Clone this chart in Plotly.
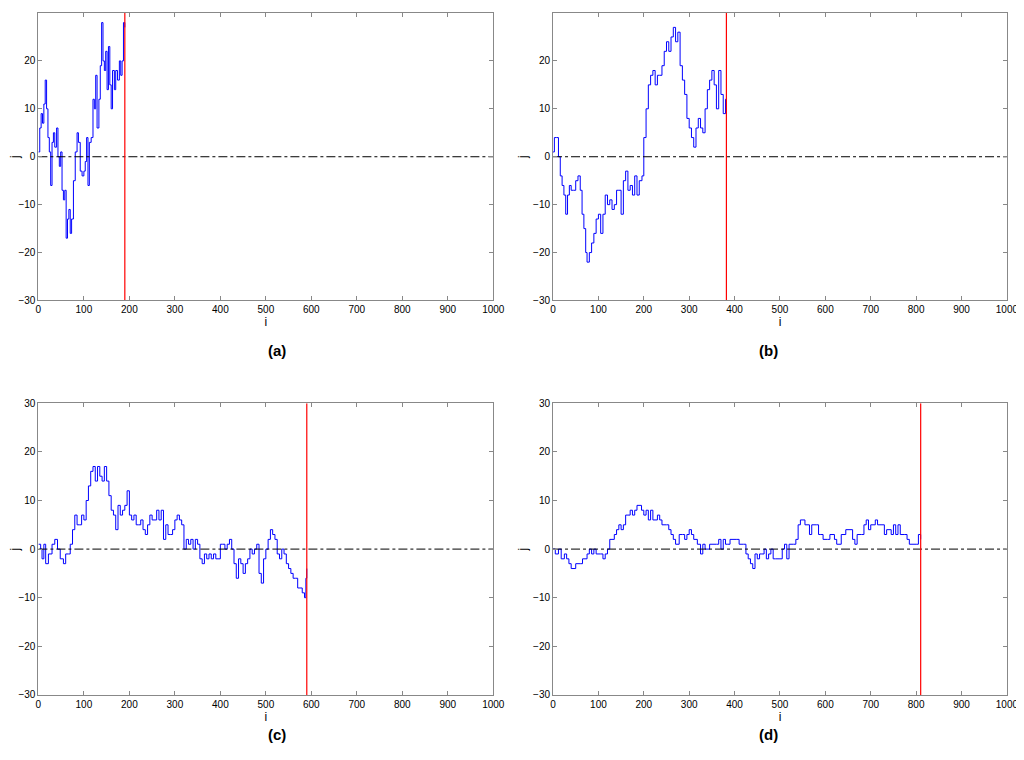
import plotly.graph_objects as go

a_x = [0,3,6,9,12,15,18,21,24,27,30,33,36,40,43,46,49,52,55,58,61,64,67,70,73,77,81,85,88,92,96,100,103,106,109,112,116,120,123,126,129,133,136,139,142,145,148,151,154,157,160,163,167,170,174,178,181,184,187,190]
a_y = [1,6,9,7,11,16,10,4,1,-6,3,5,2,6,0,-2,1,-7,-9,-7,-17,-13,-11,-16,-13,-5,1,5,3,-3,-4,-3,-1,4,-6,3,4,12,10,17,6,12,19,28,20,18,22,14,23,15,10,18,14,18,16,20,17,20,28,27]

b_x = [0,3,8,12,16,20,24,28,32,36,40,45,50,55,60,64,68,72,75,80,85,90,95,100,105,110,115,120,125,130,135,140,145,150,155,160,165,170,175,180,185,190,196,200,205,210,215,220,225,230,235,240,245,250,255,260,265,270,275,280,285,290,295,300,305,310,315,320,325,330,335,340,345,350,355,360,365,370,375,380,382]
b_y = [1,4,4,0,-4,-6,-8,-12,-8,-6,-7,-7,-5,-4,-7,-12,-15,-20,-22,-20,-18,-16,-13,-12,-16,-12,-8,-10,-9,-11,-10,-7,-7,-12,-5,-3,-7,-6,-8,-4,-8,-5,-4,4,10,15,17,18,15,17,17,19,22,24,22,25,27,24,26,19,16,13,8,6,4,2,6,8,6,5,10,14,16,18,15,10,18,13,9,12,9]

c_x = [0,5,8,12,16,22,30,36,42,48,55,60,66,70,75,80,85,90,95,100,105,110,115,120,125,130,135,140,145,150,155,160,165,170,175,180,185,190,195,200,205,210,215,220,225,230,235,240,245,250,260,265,270,275,280,285,290,295,300,305,310,315,320,325,330,335,340,345,350,355,360,365,370,375,380,385,390,395,400,405,410,415,420,425,430,435,440,445,450,455,460,465,470,475,480,485,490,495,500,505,510,515,520,525,530,535,540,545,550,555,560,565,570,575,580,585,588,590]
c_y = [1,0,-2,1,-3,-1,1,2,0,-2,-3,-1,-1,1,4,7,5,5,7,6,10,13,16,17,14,17,15,14,17,14,11,8,7,4,9,7,8,9,12,7,6,7,5,5,6,4,3,5,7,6,8,6,8,2,5,3,3,4,6,7,6,5,0,2,1,2,0,2,1,-2,-3,-1,-2,-1,-2,-1,-2,-2,1,1,0,1,2,0,-3,-6,-2,-3,-5,-3,-2,0,-1,0,1,-5,-7,-2,0,2,4,3,2,-1,-2,0,-1,-3,-4,-5,-6,-6,-8,-8,-9,-10,-6,-4]

d_x = [0,5,12,18,25,30,35,40,50,60,65,75,80,85,90,95,105,110,115,120,125,135,140,145,150,155,160,165,170,175,180,185,195,200,205,210,215,220,230,235,240,250,255,260,265,270,278,285,290,295,300,305,310,318,325,330,335,345,360,365,370,375,380,385,390,405,410,420,425,430,435,440,445,450,455,460,465,470,475,480,485,490,500,505,510,515,520,530,535,540,545,555,565,570,580,585,590,595,605,610,620,625,630,635,645,660,665,670,680,685,690,695,700,710,715,730,735,745,750,755,760,765,775,780,785,800,805,810]
d_y = [0,-1,0,-2,-1,-2,-3,-4,-3,-3,-2,-1,0,-1,0,-1,-1,-2,-1,0,2,3,4,5,4,5,7,7,8,7,8,9,8,7,8,6,8,6,7,6,5,5,4,3,2,1,3,3,2,3,4,3,2,1,-1,1,0,1,1,2,0,2,1,1,2,2,1,1,-1,-2,-3,-4,-1,-2,-1,-1,0,-2,-1,0,-2,-2,-2,0,1,-2,1,1,2,5,6,5,3,5,5,3,3,2,2,3,2,1,1,3,4,2,1,3,3,5,6,4,5,6,5,3,4,3,5,3,5,3,3,2,1,1,3,2]

red_x = [190, 382, 590, 810]
captions = ["(a)", "(b)", "(c)", "(d)"]
series = [(a_x, a_y), (b_x, b_y), (c_x, c_y), (d_x, d_y)]

W, H = 1024, 760
# target pixel boxes, corrected for rendering offset
def cx(p): return (p - 10.5) / 0.985
def cy(p): return (p - 12.1) / 0.987
boxes = [(33, 490, 8, 300), (550, 1006, 8, 300), (33, 490, 403, 695), (550, 1006, 403, 695)]

fig = go.Figure()
layout = dict(width=W, height=H, margin=dict(l=0, r=0, t=0, b=0), plot_bgcolor="white",
              paper_bgcolor="white", showlegend=False, font=dict(family="Liberation Sans", size=10, color="black"))
annotations = []
for k, ((xs, ys), (x0, x1, y0, y1)) in enumerate(zip(series, boxes)):
    n = "" if k == 0 else str(k + 1)
    xa, ya = "x" + n, "y" + n
    fig.add_trace(go.Scatter(x=xs, y=ys, mode="lines", line=dict(color="#0000ff", width=1, shape="hv"),
                             xaxis=xa, yaxis=ya))
    fig.add_trace(go.Scatter(x=[0, 1000], y=[0, 0], mode="lines", line=dict(color="black", width=1, dash="dashdot"),
                             xaxis=xa, yaxis=ya))
    fig.add_trace(go.Scatter(x=[red_x[k], red_x[k]], y=[-30, 30], mode="lines", line=dict(color="red", width=1.2),
                             xaxis=xa, yaxis=ya))
    common = dict(showline=True, mirror="ticks", linecolor="#888", ticks="inside", tickcolor="#888",
                  ticklen=4, showgrid=False, zeroline=False)
    dx0, dx1 = max(0, cx(x0) / W), min(1, cx(x1) / W)
    dy0, dy1 = max(0, 1 - cy(y1) / H), min(1, 1 - cy(y0) / H)
    layout["xaxis" + n] = dict(domain=[dx0, dx1], range=[0, 1000], dtick=100, anchor=ya,
                               title=dict(text="i", standoff=2), **common)
    layout["yaxis" + n] = dict(domain=[dy0, dy1], range=[-30, 30], dtick=10, anchor=xa,
                               title=dict(text="j", standoff=2), **common)
    annotations.append(dict(text="<b>" + captions[k] + "</b>", x=(dx0 + dx1) / 2, y=1 - cy(y1 + 50) / H,
                            xref="paper", yref="paper", showarrow=False, font=dict(size=15, family="Liberation Sans")))
layout["annotations"] = annotations
fig.update_layout(**layout)
fig.write_html("out.html")
